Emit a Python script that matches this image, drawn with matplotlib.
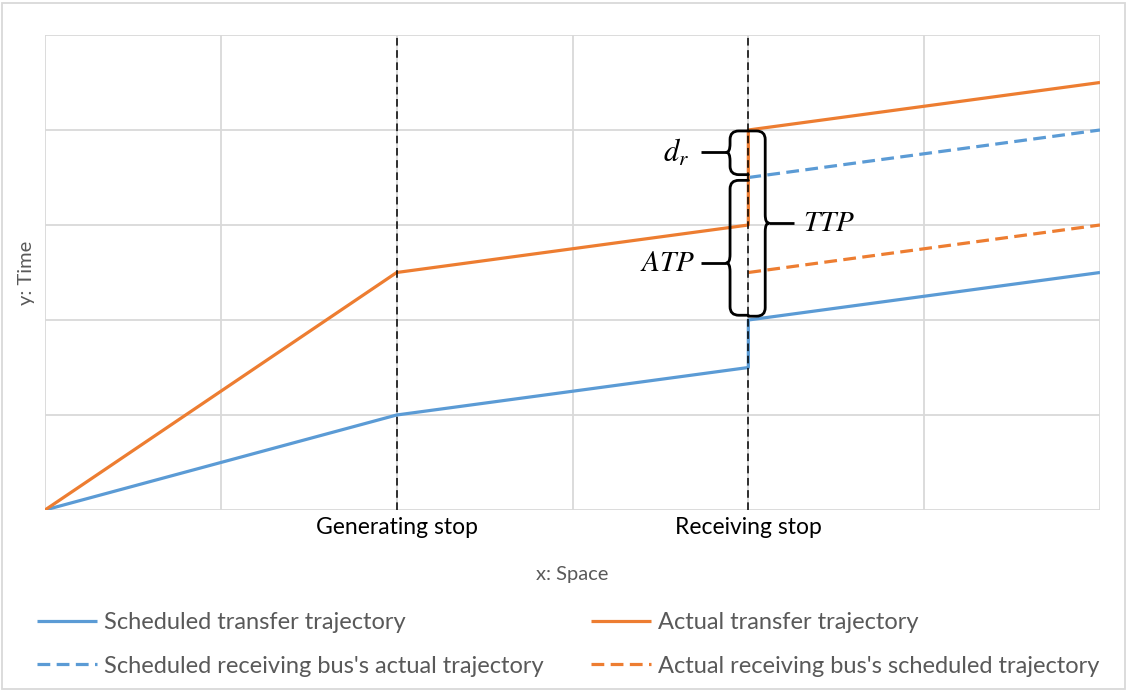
import matplotlib
matplotlib.use("Agg")
import matplotlib.pyplot as plt
from matplotlib.path import Path
from matplotlib.patches import PathPatch, Rectangle

# ---- data ----
sched_x = [0, 2, 4, 4, 6]
sched_y = [0, 1, 1.5, 2, 2.5]
actual_x = [0, 2, 4, 4, 6]
actual_y = [0, 2.5, 3, 4, 4.5]
recv_actual_x = [4, 6]
recv_actual_y = [3.5, 4]
recv_sched_x = [4, 6]
recv_sched_y = [2.5, 3]
stop_x = [2, 4]
stop_labels = ["Generating stop", "Receiving stop"]
series_labels = ["Scheduled transfer trajectory",
                 "Scheduled receiving bus's actual trajectory",
                 "Actual transfer trajectory",
                 "Actual receiving bus's scheduled trajectory"]

BLUE = "#5B9BD5"
ORANGE = "#ED7D31"
GRID = "#D9D9D9"
TXT = "#595959"

plt.rcParams['font.family'] = ['Lato', 'DejaVu Sans']
plt.rcParams['mathtext.fontset'] = 'stix'

fig = plt.figure(figsize=(11.29, 6.91), dpi=100)
ax = fig.add_axes([45/1129, 1-510/691, 1055/1129, 475/691])
ax.set_xlim(0, 6)
ax.set_ylim(0, 5)
ax.set_xticks(range(0, 7))
ax.set_xticklabels(["" if i not in stop_x else stop_labels[stop_x.index(i)] for i in range(7)],
                   fontsize=16.5, color="black")
ax.set_yticks(range(0, 6))
ax.set_yticklabels([])
ax.tick_params(axis='x', length=0, pad=5)
ax.tick_params(axis='y', length=0, pad=0)
ax.grid(True, color=GRID, lw=1.3)
for s in ax.spines.values():
    s.set_visible(False)
ax.set_axisbelow(True)

ax.set_xlabel("x: Space", fontsize=14.5, color=TXT, labelpad=20)
ax.set_ylabel("y: Time", fontsize=14.5, color=TXT, labelpad=7)

l1, = ax.plot(sched_x, sched_y, color=BLUE, lw=2.3, solid_capstyle='butt', zorder=3)
l2, = ax.plot(recv_actual_x, recv_actual_y, color=BLUE, lw=2.3, ls=(0, (4, 2)), zorder=3)
l3, = ax.plot(actual_x, actual_y, color=ORANGE, lw=2.3, solid_capstyle='butt', zorder=3)
l4, = ax.plot(recv_sched_x, recv_sched_y, color=ORANGE, lw=2.3, ls=(0, (4, 2)), zorder=3)

for xs in stop_x:
    ax.plot([xs, xs], [0, 5], color="black", lw=1.1, ls=(0, (5, 3)), zorder=4)


def brace(ax, x_spine, x_end, x_tip, y0, y1, ym, x_lead):
    rx = 0.05 * (1 if x_end > x_spine else -1)
    ry = 0.09
    verts = [(x_end, y1), (x_spine + rx, y1), (x_spine, y1), (x_spine, y1 - ry),
             (x_spine, ym + ry), (x_spine, ym), (x_tip, ym),
             (x_spine, ym), (x_spine, ym - ry),
             (x_spine, y0 + ry), (x_spine, y0), (x_spine + rx, y0), (x_end, y0)]
    codes = [Path.MOVETO, Path.LINETO, Path.CURVE3, Path.CURVE3,
             Path.LINETO, Path.CURVE3, Path.CURVE3,
             Path.CURVE3, Path.CURVE3,
             Path.LINETO, Path.CURVE3, Path.CURVE3, Path.LINETO]
    ax.add_patch(PathPatch(Path(verts, codes), fc='none', ec='black', lw=2.0, zorder=5,
                           capstyle='round', joinstyle='round'))
    ax.plot([x_tip, x_lead], [ym, ym], color='black', lw=2.0, zorder=5, solid_capstyle='butt')


# d_r brace (actual 4 -> scheduled receiving 3.5)
brace(ax, 3.896, 4.0, 3.875, 3.53, 3.99, 3.765, 3.73)
ax.text(3.665, 3.765, r"$d_r$", fontsize=22, ha='right', va='center')
# ATP brace
brace(ax, 3.896, 4.0, 3.875, 2.05, 3.47, 2.6, 3.73)
ax.text(3.70, 2.6, r"$ATP$", fontsize=21, ha='right', va='center')
# TTP brace
brace(ax, 4.096, 4.0, 4.117, 2.04, 3.99, 3.02, 4.26)
ax.text(4.31, 3.02, r"$TTP$", fontsize=21, ha='left', va='center')

leg = fig.legend([l1, l2, l3, l4], series_labels, ncol=2, loc='lower left',
                 bbox_to_anchor=(16/1129, -7/691), frameon=False, fontsize=17,
                 labelcolor=TXT, handlelength=2.55, handletextpad=0.28,
                 columnspacing=2.0, labelspacing=0.96)

fig.add_artist(Rectangle((2/1129, 2/691), 1123/1129, 686/691, transform=fig.transFigure,
                         fill=False, ec=GRID, lw=1.3))

fig.savefig("out.png", dpi=100)
